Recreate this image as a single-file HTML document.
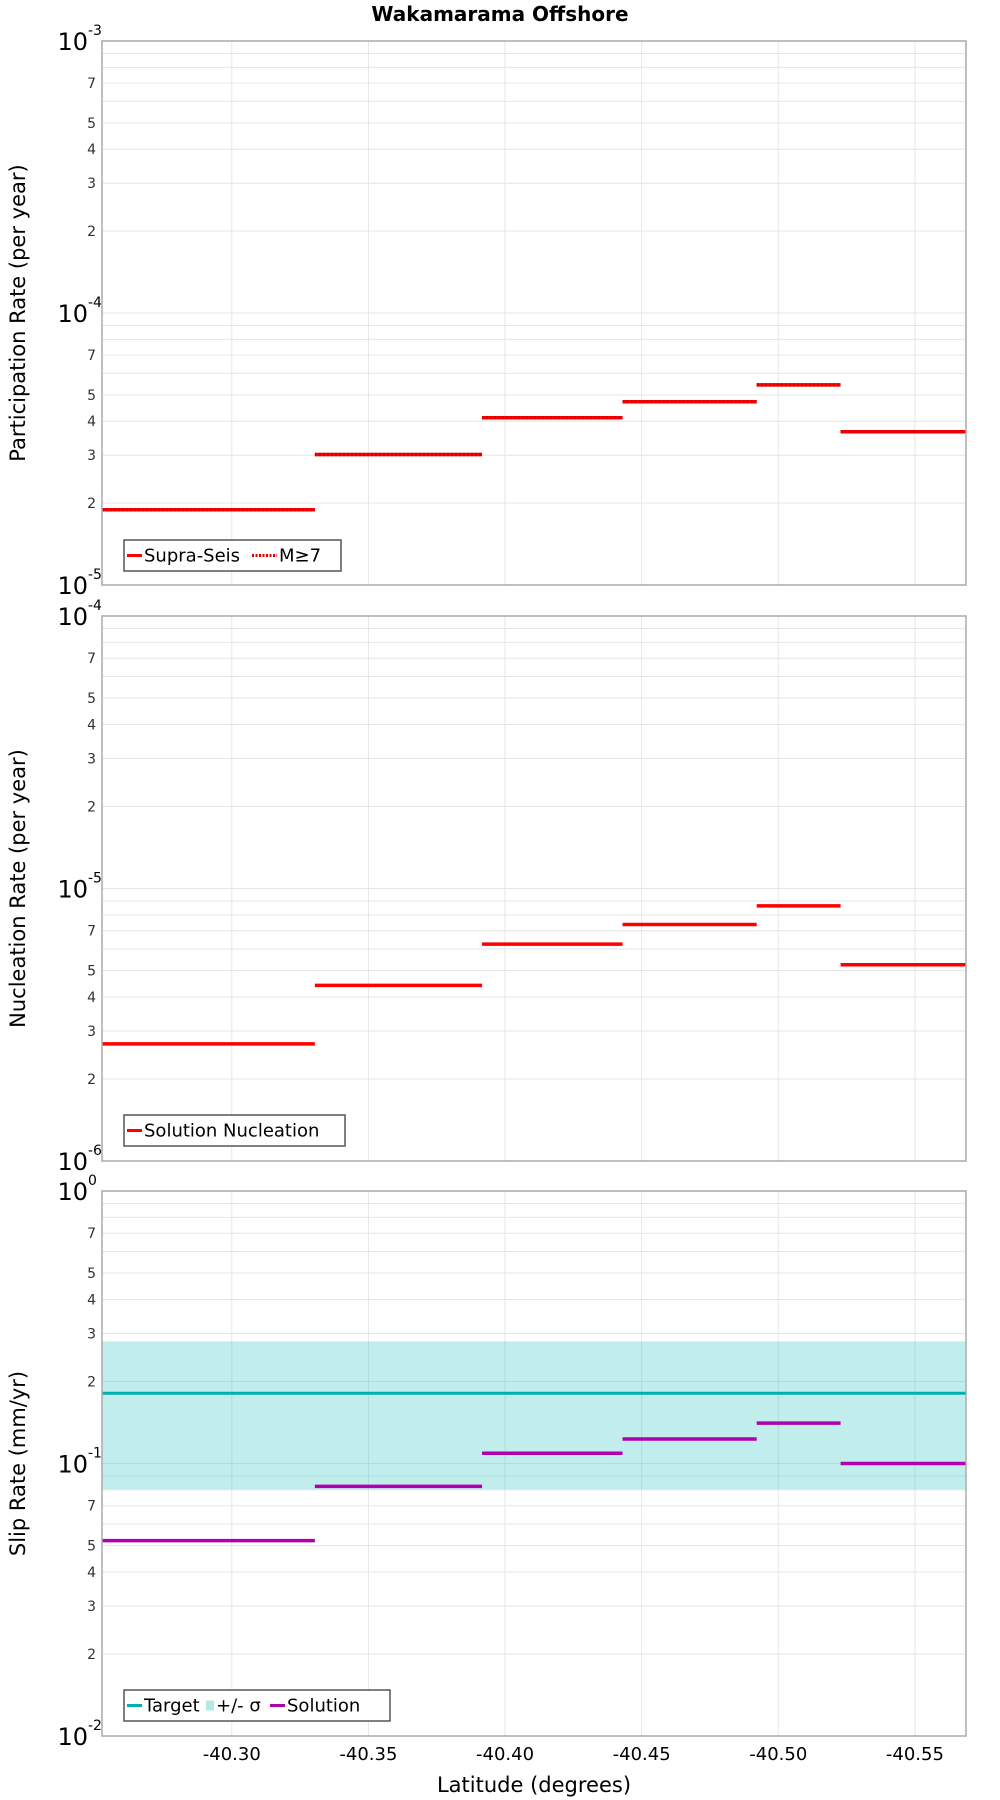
<!DOCTYPE html>
<html><head><meta charset="utf-8"><style>
html,body{margin:0;padding:0;background:#fff;}
svg{display:block;font-family:"DejaVu Sans","Liberation Sans",sans-serif;}
</style></head><body>
<svg id="chart" width="1000" height="1800" viewBox="0 0 1000 1800">
<text x="500" y="21" text-anchor="middle" font-size="20" font-weight="bold">Wakamarama Offshore</text>
<g id="g"></g>
<text x="534" y="1792" text-anchor="middle" font-size="21">Latitude (degrees)</text>
</svg>
<script>
// shared x data
const binEdges = [-40.2525, -40.3304, -40.3916, -40.4430, -40.4921, -40.5228, -40.5687];
const xTicks = [-40.30, -40.35, -40.40, -40.45, -40.50, -40.55];
const xTickLabels = ["-40.30", "-40.35", "-40.40", "-40.45", "-40.50", "-40.55"];
// panel 1
const partSupra = [1.89e-5, 3.02e-5, 4.12e-5, 4.72e-5, 5.44e-5, 3.66e-5];
const partM7 = [1.89e-5, 3.02e-5, 4.12e-5, 4.72e-5, 5.44e-5, 3.66e-5];
// panel 2
const nucl = [2.69e-6, 4.41e-6, 6.25e-6, 7.38e-6, 8.63e-6, 5.25e-6];
// panel 3
const slipTarget = 0.181;
const slipSigmaLow = 0.0804;
const slipSigmaHigh = 0.2806;
const slipSolution = [0.0521, 0.0824, 0.1091, 0.1230, 0.1406, 0.1000];

const NS = "http://www.w3.org/2000/svg";
const G = document.getElementById('g');
const L = 102, R = 966;
const xMin = binEdges[0], xMax = binEdges[binEdges.length - 1];
function xs(v){ return L + (v - xMin) / (xMax - xMin) * (R - L); }
function mk(tag, attrs, parent){
  const e = document.createElementNS(NS, tag);
  for (const k in attrs) e.setAttribute(k, attrs[k]);
  (parent || G).appendChild(e);
  return e;
}
function panel(top, bottom, expTop, expBot, title, key){
  const ys = v => top + (expTop - Math.log10(v)) / (expTop - expBot) * (bottom - top);
  const pg = mk('g', {});
  
  
  for (let e = expBot; e < expTop; e++) {
    for (let m = 1; m <= 9; m++) {
      const v = m * Math.pow(10, e);
      const y = ys(v);
      const gl = mk('line', {x1: L, x2: R, y1: y, y2: y, stroke: '#e6e6e6', 'stroke-width': 1}, pg);
      
      
      if ([2,3,4,5,7].includes(m)) {
        const t = mk('text', {x: 96, y: y + 5, 'text-anchor': 'end', 'font-size': 14, fill: '#333'}, pg);
        t.textContent = m;
        
        
      }
    }
  }
  for (let e = expBot; e <= expTop; e++) {
    const y = ys(Math.pow(10, e));
    const t = mk('text', {x: 88, y: y + 9, 'text-anchor': 'end', 'font-size': 24}, pg);
    t.textContent = '10';
    
    
    const s = mk('text', {x: 88, y: y - 6, 'text-anchor': 'start', 'font-size': 14}, pg);
    s.textContent = String(e);
    
    
  }
  xTicks.forEach((v, i) => {
    const x = xs(v);
    const gl = mk('line', {x1: x, x2: x, y1: top, y2: bottom, stroke: '#e6e6e6', 'stroke-width': 1}, pg);
    
    
  });
  const yt = mk('text', {x: 0, y: 0, 'text-anchor': 'middle', 'font-size': 21, transform: `translate(25,${(top+bottom)/2}) rotate(-90)`}, pg);
  yt.textContent = title;
  
  
  return {ys, pg, top, bottom};
}
function frame(p){
  const r = mk('rect', {x: L, y: p.top, width: R - L, height: p.bottom - p.top, fill: 'none', stroke: '#aaa', 'stroke-width': 1.5}, p.pg);
  
  
}
function steps(p, vals, color, name, dash){
  vals.forEach((v, i) => {
    const y = p.ys(v);
    const a = {x1: xs(binEdges[i]), x2: xs(binEdges[i+1]), y1: y, y2: y, stroke: color, 'stroke-width': 3.5};
    if (dash) a['stroke-dasharray'] = dash;
    const l = mk('line', a, p.pg);
    
    
  });
}
function legend(p, x, y, w, items){
  const lg = mk('g', {}, p.pg);
  
  
  const r = mk('rect', {x: x, y: y, width: w, height: 31, fill: '#fff', stroke: '#555', 'stroke-width': 1.5}, lg);
  
  
  let cx = x + 3;
  items.forEach(it => {
    const cy = y + 15.5;
    let m;
    if (it.type === 'band') m = mk('rect', {x: cx + 2, y: cy - 5, width: 8, height: 10, fill: it.color}, lg);
    else m = mk('line', {x1: cx, x2: cx + it.sw, y1: cy, y2: cy, stroke: it.color, 'stroke-width': 3, 'stroke-dasharray': it.dash || 'none'}, lg);
    
    
    cx += it.sw + 2;
    const t = mk('text', {x: cx, y: cy + 6, 'font-size': 18}, lg);
    t.textContent = it.label;
    
    
    cx += it.tw;
  });
}
// Panel 1
const p1 = panel(41, 585, -3, -5, 'Participation Rate (per year)', 'participation');
steps(p1, partSupra, '#ff0000', 'supra-seis-bar');
steps(p1, partM7, '#d80000', 'm7-bar', '2 2');
frame(p1);
legend(p1, 124, 540, 217, [
  {color: '#ff0000', sw: 15, label: 'Supra-Seis', tw: 108},
  {color: '#e00000', sw: 25, dash: '2 1.5', label: 'M≥7', tw: 45}
]);
// Panel 2
const p2 = panel(616, 1161, -4, -6, 'Nucleation Rate (per year)', 'nucleation');
steps(p2, nucl, '#ff0000', 'nucleation-bar');
frame(p2);
legend(p2, 124, 1115, 221, [
  {color: '#ff0000', sw: 15, label: 'Solution Nucleation', tw: 200}
]);
// Panel 3
const p3 = panel(1191, 1736, 0, -2, 'Slip Rate (mm/yr)', 'slip-rate');
const band = mk('rect', {x: L, y: p3.ys(slipSigmaHigh), width: R - L, height: p3.ys(slipSigmaLow) - p3.ys(slipSigmaHigh), fill: 'rgba(0,180,180,0.24)'}, p3.pg);


const tl = mk('line', {x1: L, x2: R, y1: p3.ys(slipTarget), y2: p3.ys(slipTarget), stroke: '#00b0b0', 'stroke-width': 3}, p3.pg);


steps(p3, slipSolution, '#b000b0', 'solution-bar');
frame(p3);
legend(p3, 124, 1690, 266, [
  {color: '#00b0b0', sw: 15, label: 'Target', tw: 60},
  {type: 'band', color: 'rgba(0,180,180,0.3)', sw: 10, label: '+/- σ', tw: 54},
  {color: '#b000b0', sw: 15, label: 'Solution', tw: 80}
]);
// x tick labels
xTicks.forEach((v, i) => {
  const t = mk('text', {x: xs(v), y: 1760, 'text-anchor': 'middle', 'font-size': 18});
  t.textContent = xTickLabels[i];
  
  
});
</script>
</body></html>
